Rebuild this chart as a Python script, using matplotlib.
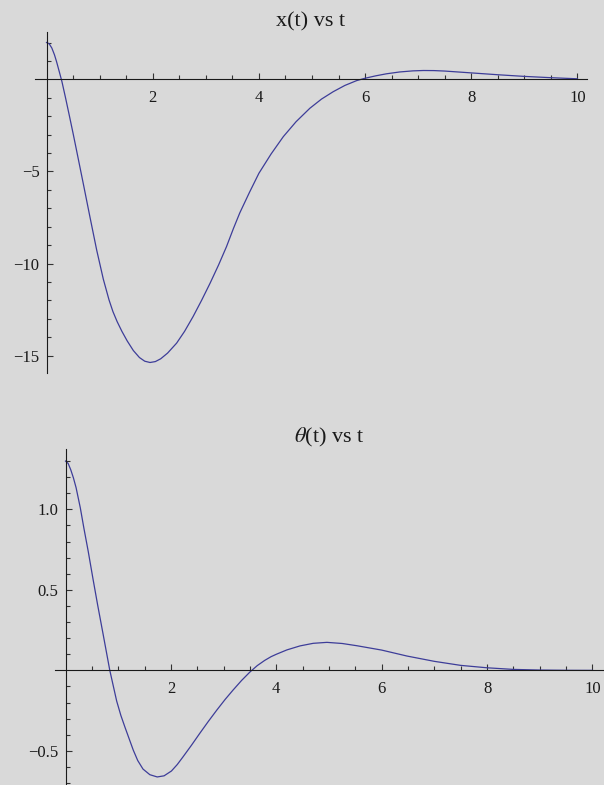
import numpy as np
import matplotlib
matplotlib.use("Agg")
import matplotlib.pyplot as plt

plt.rcParams['font.family'] = ['Liberation Serif', 'DejaVu Serif']
plt.rcParams['mathtext.fontset'] = 'stix'

# x(t)
t_x = [0, 0.05, 0.1, 0.15, 0.19, 0.24, 0.29, 0.358, 0.43, 0.5, 0.556, 0.693, 0.82, 0.945,
       1.07, 1.177, 1.25, 1.33, 1.42, 1.52, 1.635, 1.75, 1.85, 1.95, 2.05, 2.15, 2.28,
       2.45, 2.6, 2.76, 2.92, 3.08, 3.24, 3.39, 3.52, 3.64, 3.82, 4.0, 4.23, 4.46, 4.7,
       4.96, 5.18, 5.4, 5.62, 5.84, 6.0, 6.2, 6.4, 6.65, 6.9, 7.1, 7.3, 7.5, 8.0, 8.5,
       9.0, 9.5, 10.0]
x_vals = [2.0, 1.93, 1.70, 1.33, 0.95, 0.42, -0.12, -1.0, -1.97, -2.93, -3.72, -5.67, -7.50, -9.27,
          -10.85, -11.97, -12.6, -13.15, -13.68, -14.2, -14.72, -15.1, -15.3, -15.37, -15.32, -15.17, -14.86,
          -14.32, -13.68, -12.88, -12.0, -11.07, -10.08, -9.08, -8.1, -7.25, -6.15, -5.1, -4.05, -3.11, -2.3,
          -1.57, -1.07, -0.67, -0.33, -0.07, 0.06, 0.19, 0.30, 0.40, 0.46, 0.48, 0.475, 0.45, 0.35, 0.25,
          0.16, 0.09, 0.03]

# theta(t)
t_theta = [0, 0.05, 0.1, 0.15, 0.2, 0.28, 0.35, 0.43, 0.52, 0.61, 0.71, 0.84, 0.97, 1.05, 1.13,
           1.285, 1.37, 1.47, 1.6, 1.74, 1.87, 2.01, 2.12, 2.23, 2.39, 2.55, 2.71, 2.87, 3.03,
           3.18, 3.34, 3.50, 3.64, 3.78, 3.9, 4.0, 4.2, 4.45, 4.7, 4.96, 5.25, 5.53, 6.0, 6.48,
           7.0, 7.5, 8.0, 8.5, 9.0, 9.5, 10.0]
theta_vals = [1.30, 1.285, 1.245, 1.195, 1.135, 1.01, 0.88, 0.74, 0.57, 0.405, 0.23, 0.0, -0.19, -0.28, -0.355,
              -0.495, -0.56, -0.613, -0.648, -0.662, -0.655, -0.625, -0.585, -0.537, -0.465, -0.39, -0.317, -0.247, -0.18,
              -0.122, -0.063, -0.01, 0.03, 0.062, 0.085, 0.10, 0.127, 0.152, 0.168, 0.174, 0.167, 0.153, 0.126, 0.089,
              0.056, 0.031, 0.016, 0.006, 0.002, 0.0005, 0.0]

t_major = [2, 4, 6, 8, 10]
t_labels = ['2', '4', '6', '8', '10']
x_major = [-15, -10, -5]
x_labels = ['\u221215', '\u221210', '\u22125']
theta_major = [-0.5, 0.5, 1.0]
theta_labels = ['\u22120.5', '0.5', '1.0']

bg = '#d9d9d9'
line_col = '#3d3d99'

fig = plt.figure(figsize=(6.04, 7.85), dpi=100, facecolor=bg)


def style_axes(ax, ymajor, ylabels, yminor, title):
    ax.set_facecolor(bg)
    for s in ['top', 'right']:
        ax.spines[s].set_visible(False)
    ax.spines['left'].set_position(('data', 0))
    ax.spines['bottom'].set_position(('data', 0))
    for s in ['left', 'bottom']:
        ax.spines[s].set_linewidth(0.8)
        ax.spines[s].set_color('#1a1a1a')
    ax.set_xticks(t_major, labels=t_labels)
    ax.set_xticks([m / 2 for m in range(1, 20) if m % 4 != 0], minor=True)
    ax.set_yticks(ymajor, labels=ylabels)
    ax.set_yticks(yminor, minor=True)
    ax.tick_params(which='both', direction='in', color='#333333', width=0.8,
                   labelsize=12, labelcolor='#1a1a1a')
    ax.tick_params(which='major', length=4.3)
    ax.tick_params(which='minor', length=2.6)
    ax.tick_params(axis='x', which='major', pad=8)
    ax.tick_params(axis='y', which='major', pad=5)
    ax.set_title(title, fontsize=16, pad=3.8, color='#1a1a1a')


# top panel: x(t)
ax1 = fig.add_axes([35 / 604, 1 - 373 / 785, 552 / 604, 341 / 785])
ax1.plot(t_x, x_vals, color=line_col, lw=0.9)
ax1.set_xlim(-0.217, 10.18)
ax1.set_ylim(-15.94, 2.57)
style_axes(ax1, x_major, x_labels,
           [v for v in range(-15, 3) if v not in (-15, -10, -5, 0)], 'x(t) vs t')

# bottom panel: theta(t)
ax2 = fig.add_axes([55 / 604, 0, 548 / 604, 336 / 785])
ax2.plot(t_theta, theta_vals, color=line_col, lw=0.9)
ax2.set_xlim(-0.2, 10.2)
ax2.set_ylim(-0.712, 1.375)
style_axes(ax2, theta_major, theta_labels,
           [v / 10 for v in range(-7, 14) if v not in (-5, 0, 5, 10)], r'$\theta$(t) vs t')

fig.savefig('out.png', dpi=100, facecolor=bg)
